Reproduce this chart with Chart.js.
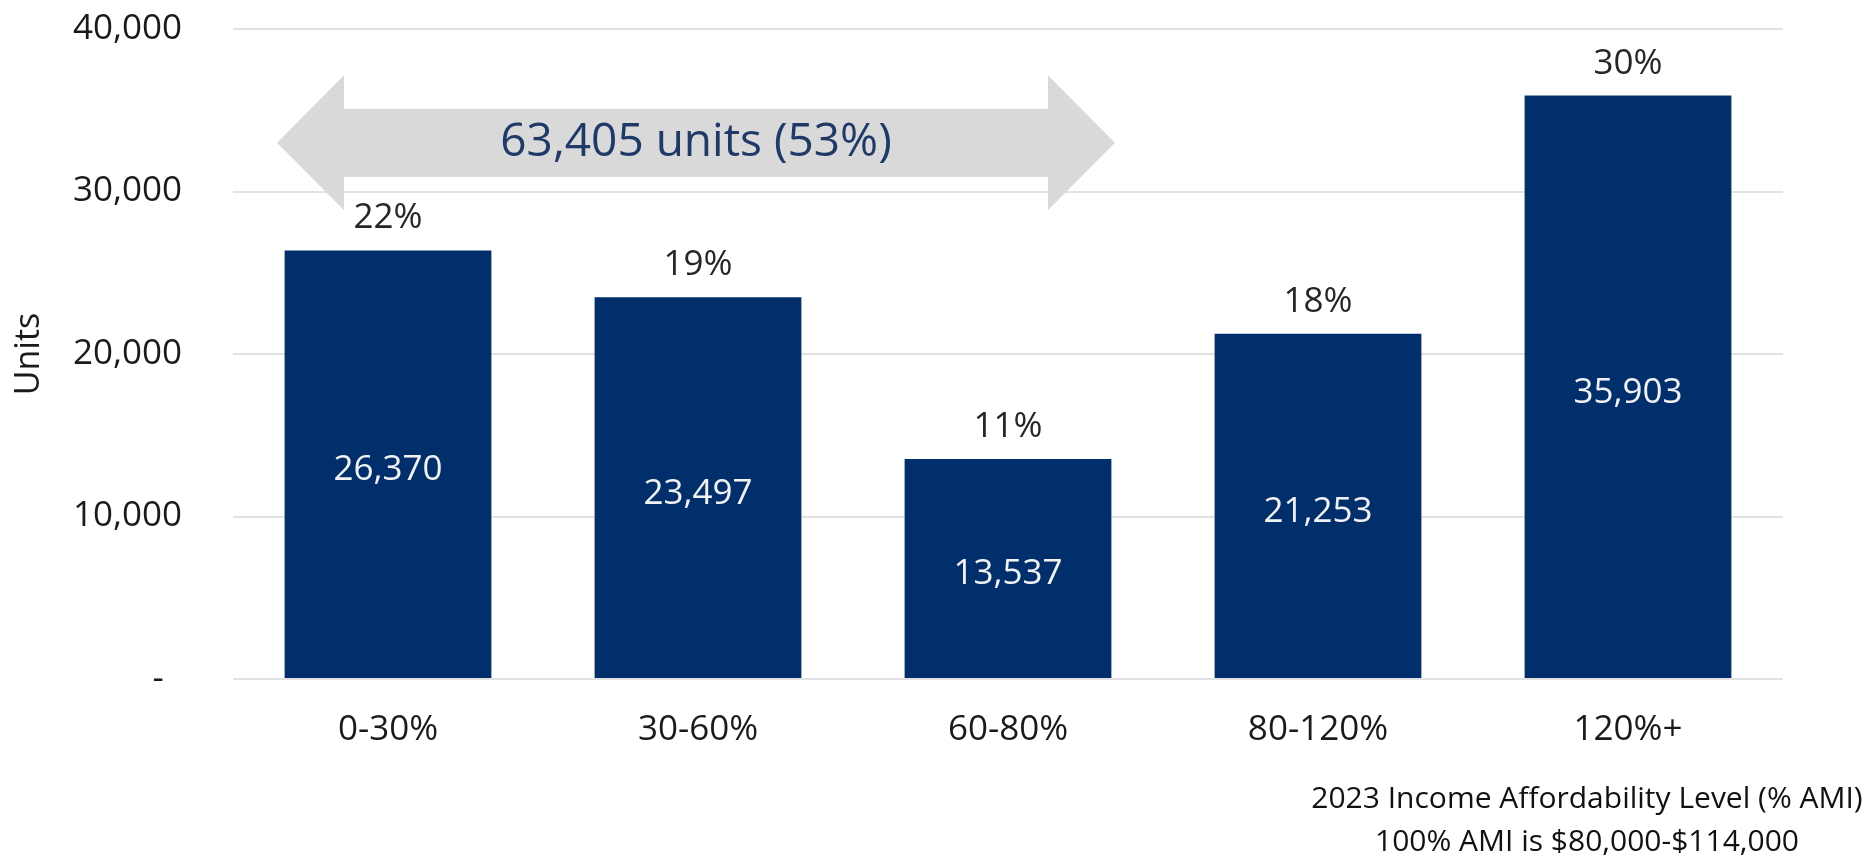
<!DOCTYPE html>
<html>
<head>
<meta charset="utf-8">
<script src="https://cdn.jsdelivr.net/npm/chart.js@4.4.1/dist/chart.umd.min.js"></script>
<style>
body { margin: 0; background: #fff; }
#wrap { width: 1875px; height: 859px; }
</style>
</head>
<body>
<div id="wrap"><canvas id="myChart" width="1875" height="859"></canvas></div>
<script>
// data
var categories = ["0-30%", "30-60%", "60-80%", "80-120%", "120%+"];
var units = [26370, 23497, 13537, 21253, 35903];
var shares = [22, 19, 11, 18, 30];
var yTicks = [0, 10000, 20000, 30000, 40000];
var arrowText = "63,405 units (53%)";
var axisNote = ["2023 Income Affordability Level (% AMI)", "100% AMI is $80,000-$114,000"];

var FONT = "'Open Sans', 'DejaVu Sans', sans-serif";
var barColor = "#002f6c";

function fmt(v) {
    return v.toLocaleString("en-US");
}

// grey double arrow over the first three bars
var arrowPlugin = {
    id: "arrow",
    beforeDatasetsDraw: function (chart) {
        var ctx = chart.ctx;
        var x = chart.scales.x, y = chart.scales.y;
        var w = x.getPixelForValue(1) - x.getPixelForValue(0);
        var left = x.getPixelForValue(0) - 0.358 * w;
        var right = x.getPixelForValue(2) + 0.345 * w;
        var cy = y.getPixelForValue(33000);
        var head = (y.getPixelForValue(28750) - y.getPixelForValue(37050)) / 2;
        var shaft = (y.getPixelForValue(30850) - y.getPixelForValue(35050)) / 2;
        var hl = 0.216 * w;
        ctx.save();
        ctx.fillStyle = "#d9d9d9";
        ctx.beginPath();
        ctx.moveTo(left, cy);
        ctx.lineTo(left + hl, cy - head);
        ctx.lineTo(left + hl, cy - shaft);
        ctx.lineTo(right - hl, cy - shaft);
        ctx.lineTo(right - hl, cy - head);
        ctx.lineTo(right, cy);
        ctx.lineTo(right - hl, cy + head);
        ctx.lineTo(right - hl, cy + shaft);
        ctx.lineTo(left + hl, cy + shaft);
        ctx.lineTo(left + hl, cy + head);
        ctx.closePath();
        ctx.fill();
        ctx.fillStyle = "#1f3a68";
        ctx.font = "46px " + FONT;
        ctx.textAlign = "center";
        ctx.textBaseline = "middle";
        ctx.fillText(arrowText, (left + right) / 2, cy);
        ctx.restore();
    }
};

// value labels inside, share labels above
var labelPlugin = {
    id: "labels",
    afterDatasetsDraw: function (chart) {
        var ctx = chart.ctx;
        var meta = chart.getDatasetMeta(0);
        ctx.save();
        ctx.font = "35px " + FONT;
        ctx.textAlign = "center";
        ctx.textBaseline = "middle";
        meta.data.forEach(function (bar, i) {
            ctx.fillStyle = "#f2f2f2";
            ctx.fillText(fmt(units[i]), bar.x, (bar.y + bar.base) / 2 + 6);
            ctx.fillStyle = "#262626";
            ctx.fillText(shares[i] + "%", bar.x, bar.y - 32);
        });
        ctx.restore();
    }
};

// two-line note under the x axis, right side
var notePlugin = {
    id: "note",
    afterDraw: function (chart) {
        var ctx = chart.ctx;
        var a = chart.chartArea;
        ctx.save();
        ctx.font = "30px " + FONT;
        ctx.fillStyle = "#111";
        ctx.textAlign = "center";
        ctx.textBaseline = "middle";
        ctx.fillText(axisNote[0], a.right - 196, a.bottom + 120);
        ctx.fillText(axisNote[1], a.right - 196, a.bottom + 163);
        ctx.restore();
    }
};

new Chart("myChart", {
    type: "bar",
    data: {
        labels: categories,
        datasets: [{
            data: units,
            backgroundColor: barColor,
            borderWidth: 0,
            categoryPercentage: 1,
            barPercentage: 0.667
        }]
    },
    options: {
        responsive: false,
        animation: false,
        layout: {
            padding: { top: 29, right: 92, left: 0, bottom: 0 }
        },
        plugins: {
            legend: { display: false },
            tooltip: { enabled: false }
        },
        scales: {
            x: {
                grid: { display: false, drawTicks: false },
                border: { display: false },
                ticks: {
                    color: "#1a1a1a",
                    padding: 30,
                    font: { size: 35, family: FONT }
                },
                afterFit: function (s) { s.height = 180; }
            },
            y: {
                min: 0,
                max: 40000,
                afterBuildTicks: function (s) {
                    s.ticks = yTicks.map(function (v) { return { value: v }; });
                },
                grid: { color: "#e2e2e2", lineWidth: 2, drawTicks: false },
                border: { display: false },
                ticks: {
                    color: "#1a1a1a",
                    padding: 51,
                    font: { size: 35, family: FONT },
                    callback: function (v) { return v === 0 ? "-  " : fmt(v); }
                },
                title: {
                    display: true,
                    text: "Units",
                    color: "#1a1a1a",
                    font: { size: 34, family: FONT },
                    padding: 9
                },
                afterFit: function (s) {
                    s.width = 233;
                    s.paddingTop = 0;
                    s.paddingBottom = 0;
                }
            }
        }
    },
    plugins: [arrowPlugin, labelPlugin, notePlugin]
});
</script>
</body>
</html>
